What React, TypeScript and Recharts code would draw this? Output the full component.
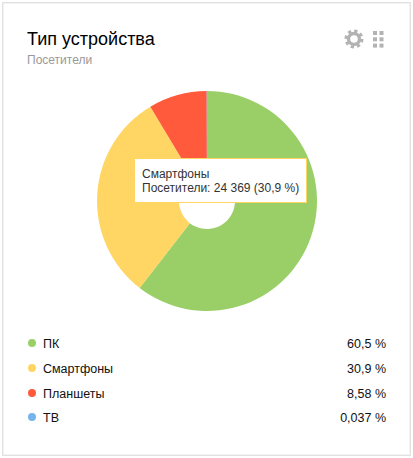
import { PieChart, Pie, Cell, Tooltip } from "recharts";

const categories = ["ПК", "Смартфоны", "Планшеты", "ТВ"];
const shares = [60.5, 30.9, 8.58, 0.037];
const shareLabels = ["60,5 %", "30,9 %", "8,58 %", "0,037 %"];
const colors = ["#9ACF68", "#FFD664", "#FF5A3C", "#75B5EC"];
const rowTops = [334, 359, 384, 408];

const FONT = '"Liberation Sans", Arial, sans-serif';
const rows = categories.map((name, i) => ({ name, value: shares[i] }));

// Fixed hover box, same text as the selected slice
function HoverBox() {
  return (
    <div
      style={{
        width: 173,
        height: 45,
        boxSizing: "border-box",
        background: "#fff",
        border: "1px solid #FFD664",
        padding: "8px 7px",
        fontFamily: FONT,
        fontSize: 12,
        lineHeight: "14px",
        color: "#333",
        whiteSpace: "nowrap",
      }}
    >
      <div>Смартфоны</div>
      <div>Посетители: 24 369 (30,9 %)</div>
    </div>
  );
}

function GearIcon() {
  return (
    <svg width="20" height="20" viewBox="0 0 20 20" style={{ position: "absolute", left: 344, top: 29 }}>
      <circle cx="10" cy="10" r="8" fill="none" stroke="#b3b3b3" strokeWidth="3" strokeDasharray="3.2 3.08" />
      <circle cx="10" cy="10" r="5.5" fill="none" stroke="#b3b3b3" strokeWidth="3.4" />
    </svg>
  );
}

function GridIcon() {
  const cells = [0, 1, 2].flatMap((r) => [0, 1].map((c) => [r, c]));
  return (
    <svg width="12" height="18" style={{ position: "absolute", left: 373, top: 31 }}>
      {cells.map(([r, c]) => (
        <rect key={`${r}-${c}`} x={c * 6.5} y={r * 6.3} width="4" height="4" fill="#b3b3b3" />
      ))}
    </svg>
  );
}

export default function App() {
  return (
    <div
      style={{
        position: "fixed",
        left: 0,
        top: 0,
        width: 413,
        height: 458,
        background: "#fff",
        fontFamily: FONT,
      }}
    >
      <div
        style={{
          position: "absolute",
          left: 2,
          top: 2,
          width: 409,
          height: 454,
          boxSizing: "border-box",
          border: "1px solid #e2e2e2",
          boxShadow: "inset 0 0 0 1px #f2f2f2",
        }}
      />
      <div style={{ position: "absolute", left: 27, top: 28, fontSize: 18, lineHeight: "22px", color: "#000" }}>
        Тип устройства
      </div>
      <div style={{ position: "absolute", left: 27, top: 53, fontSize: 12, lineHeight: "14px", color: "#999" }}>
        Посетители
      </div>
      <GearIcon />
      <GridIcon />

      <div style={{ position: "absolute", left: 0, top: 0 }}>
        <PieChart width={413} height={320} margin={{ top: 0, right: 0, bottom: 0, left: 0 }}>
          <Pie
            data={rows}
            dataKey="value"
            nameKey="name"
            cx={207}
            cy={201}
            innerRadius={28}
            outerRadius={110}
            startAngle={90}
            endAngle={-270}
            stroke="none"
            isAnimationActive={false}
          >
            {rows.map((r, i) => (
              <Cell key={r.name} fill={colors[i]} />
            ))}
          </Pie>
          <Tooltip
            active
            defaultIndex={1}
            content={<HoverBox />}
            position={{ x: 134, y: 158 }}
            isAnimationActive={false}
          />
        </PieChart>
      </div>

      {categories.map((name, i) => (
        <div key={name}>
          <span
            style={{
              position: "absolute",
              left: 28,
              top: rowTops[i] + 5,
              width: 8,
              height: 8,
              borderRadius: 4,
              background: colors[i],
            }}
          />
          <span style={{ position: "absolute", left: 43, top: rowTops[i], fontSize: 12.5, lineHeight: "20px", color: "#111" }}>
            {name}
          </span>
          <span
            style={{
              position: "absolute",
              right: 27,
              top: rowTops[i],
              fontSize: 12.5,
              lineHeight: "20px",
              color: "#111",
            }}
          >
            {shareLabels[i]}
          </span>
        </div>
      ))}
    </div>
  );
}
